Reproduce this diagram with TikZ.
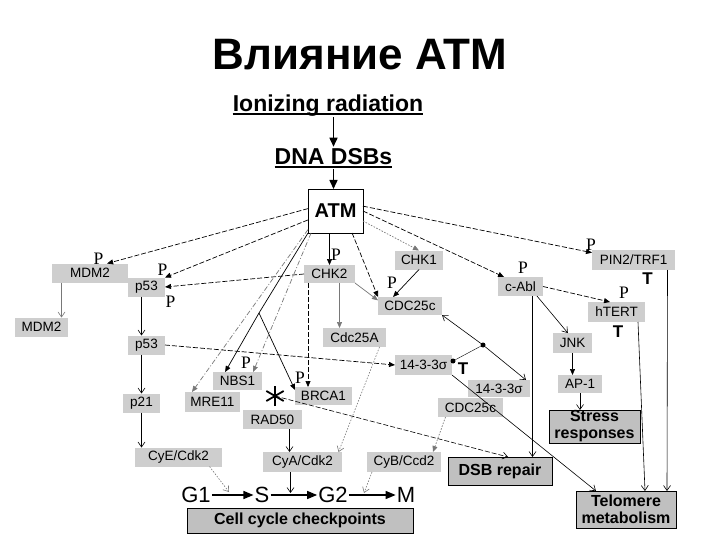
\documentclass[tikz,border=0pt]{standalone}
\usepackage{fontspec}
\setmainfont{Liberation Sans}
\newfontfamily\pfont{Liberation Serif}
\usetikzlibrary{arrows.meta, positioning, calc}
\definecolor{boxgray}{RGB}{206,206,206}
\definecolor{outgray}{RGB}{192,192,192}
\definecolor{lightline}{RGB}{120,120,120}

\begin{document}
\begin{tikzpicture}[x=1pt, y=-1pt,
  gbox/.style={fill=boxgray, font=\fontsize{13.5}{15}\selectfont, inner sep=0pt, outer sep=0pt, minimum height=19pt},
  outbox/.style={draw, line width=0.9pt, fill=outgray, font=\bfseries\fontsize{16}{17}\selectfont, align=center, inner sep=0pt, outer sep=0pt},
  plab/.style={font=\pfont\fontsize{17.5}{17}\selectfont, inner sep=0pt},
  tlab/.style={font=\bfseries\fontsize{17}{17}\selectfont, inner sep=0pt},
  phasetxt/.style={font=\fontsize{22}{22}\selectfont, inner sep=1pt},
  headtxt/.style={font=\bfseries\fontsize{23}{23}\selectfont, inner sep=0pt},
  dotnode/.style={circle, fill, inner sep=0pt, minimum size=5pt},
  arrow/.style={-{Triangle[length=6pt, width=5pt]}, line width=0.7pt},
  openarrow/.style={-{Straight Barb[length=5pt, width=7pt]}, line width=0.6pt},
  bigarrow/.style={-{Triangle[length=10pt, width=8pt]}, line width=1.4pt},
  dashln/.style={dash pattern=on 5pt off 2pt},
  lightln/.style={lightline, dash pattern=on 5pt off 2pt on 1pt off 2pt},
  dotln/.style={lightline, dash pattern=on 1.5pt off 1.5pt},
]
\fill[white] (0,0) rectangle (720,540);
\useasboundingbox (0,0) rectangle (720,540);

% Title and input
\node[font=\bfseries\fontsize{44}{48}\selectfont] (title) at (360,55) {Влияние ATM};
\node[headtxt, anchor=base] (ionz) at (328,112) {Ionizing radiation};
\node[headtxt, anchor=base] (dna) at (333.5,165) {DNA DSBs};
\draw[line width=1.5pt] ([yshift=-2pt]ionz.base west) -- ([yshift=-2pt]ionz.base east);
\draw[line width=1.5pt] ([yshift=-2pt]dna.base west) -- ([yshift=-2pt]dna.base east);
\node[draw, line width=0.9pt, fill=white, minimum width=55pt, minimum height=44pt, inner sep=0pt, outer sep=0pt, font=\bfseries\fontsize{20}{20}\selectfont] (atm) at (335.5,211) {ATM};
\draw[-{Triangle[length=9pt, width=8pt]}, line width=1.5pt] (ionz.south -| dna) -- ([yshift=2pt]dna.north);
\draw[-{Triangle[length=9pt, width=8pt]}, line width=1.5pt] ([yshift=-4pt]dna.south) -- (atm.north -| dna);

% Targets
\node[gbox, minimum width=76pt] (mdmA) at (90,273) {MDM2\hspace{20pt}};
\node[gbox, minimum width=53pt] (mdmB) at (41.5,327) {MDM2};
\node[gbox, minimum width=37pt] (p53a) at (146.5,287) {p53};
\node[gbox, minimum width=37pt] (p53b) at (146.5,345) {p53};
\node[gbox, minimum width=37pt] (p21) at (141.5,403) {p21};
\node[gbox, minimum width=87pt] (cye) at (178.5,457) {CyE/Cdk2\hspace{12pt}};
\node[gbox, minimum width=51pt, minimum height=18pt] (chk2) at (329.5,274) {CHK2};
\node[gbox, minimum width=48pt] (chk1) at (419,260) {CHK1};
\node[gbox, minimum width=64pt, minimum height=18pt] (cdcA) at (410,306) {CDC25c};
\node[gbox, minimum width=63pt] (cdc25a) at (354.5,337.5) {Cdc25A};
\node[gbox, minimum width=57pt, minimum height=20pt] (sigA) at (423.5,365) {14-3-3σ};
\node[gbox, minimum width=62pt, minimum height=17pt] (sigB) at (499,388.5) {14-3-3σ};
\node[gbox, minimum width=65pt] (cdcB) at (470.5,407.5) {CDC25c};
\node[gbox, minimum width=74pt, minimum height=20pt] (cyb) at (404,462) {CyB/Ccd2};
\node[gbox, minimum width=79pt, minimum height=20pt] (cya) at (302.5,462) {CyA/Cdk2};
\node[gbox, minimum width=59pt] (rad50) at (272.5,419.5) {RAD50};
\node[gbox, minimum width=57pt, minimum height=18pt] (brca1) at (323.5,396) {BRCA1};
\node[gbox, minimum width=49pt, minimum height=18pt] (nbs1) at (237.5,381) {NBS1};
\node[gbox, minimum width=55pt, minimum height=20pt] (mre11) at (212.5,402) {MRE11};
\node[gbox, minimum width=45pt] (cabl) at (520.5,286.5) {c-Abl};
\node[gbox, minimum width=83pt, minimum height=20pt] (pin2) at (633.5,260) {PIN2/TRF1};
\node[gbox, minimum width=57pt, minimum height=20pt] (htert) at (616.5,312) {hTERT};
\node[gbox, minimum width=39pt, minimum height=20pt] (jnk) at (572.5,343) {JNK};
\node[gbox, minimum width=44pt, minimum height=18pt] (ap1) at (580,384) {AP-1};

% Outcomes
\node[outbox, minimum width=91pt, minimum height=33pt] (stress) at (594.5,426.5) {Stress\\responses};
\node[outbox, minimum width=104pt, minimum height=28pt] (dsb) at (500,471) {DSB repair};
\node[outbox, minimum width=100pt, minimum height=37pt] (telo) at (626,509.5) {Telomere\\metabolism};
\node[outbox, minimum width=226pt, minimum height=25pt] (cellcyc) at (300,520.5) {Cell cycle checkpoints};

% Cell cycle phases
\node[phasetxt] (g1) at (196,495) {G1};
\node[phasetxt] (s) at (262,495) {S};
\node[phasetxt] (g2) at (333,495) {G2};
\node[phasetxt] (m) at (406,495) {M};
\draw[bigarrow] (g1) -- (s);
\draw[bigarrow] (s) -- (g2);
\draw[bigarrow] (g2) -- (m);
\coordinate (g1s) at (229,492);
\coordinate (sg2) at (290.5,493);
\coordinate (g2m) at (364,493);

% ATM to the left
\draw[arrow, dashln] (atm.175) -- (mdmA.29);
\draw[arrow, dashln] (atm.198) -- (p53a.north east);
\draw[arrow, dashln] (chk2.west) -- (p53a.east);
\draw[arrow] (atm.south -| chk2) -- (chk2.north);
\coordinate (brk) at (259,313);
\draw[arrow] (atm.south west) -- (brk) -- (nbs1.144);
\draw[arrow] (brk) -- (brca1.168);
\coordinate (c2b) at ([xshift=4pt]chk2.south west);
\draw[arrow, dashln] (c2b) -- (c2b |- brca1.north);
\draw[arrow, lightln] (atm.222) -- (nbs1.30);
\draw[arrow, lightln] (atm.214) -- (mre11.154);

% ATM to the right
\coordinate (c2a) at ([xshift=10pt]chk2.south);
\draw[arrow, lightline] (c2a) -- (c2a |- cdc25a.north);
\draw[arrow, lightline] (chk2.south east) -- (cdcA.170);
\draw[arrow, dashln] (atm.307) -- (cdcA.north west);
\draw[arrow] (chk1.south) -- (cdcA.152);
\draw[arrow, dotln] (atm.340) -- (chk1.north);
\draw[arrow, dashln] (atm.east) -- (cabl.150);
\draw[arrow, dashln] (atm.10) -- (pin2.170);
\draw[arrow, dashln] (cabl.east) -- (htert.123);
\draw[openarrow] (cabl.-30) -- (jnk.115);
\coordinate (cbd) at ([xshift=12pt]cabl.south);
\draw[openarrow] (cbd) -- (cbd |- dsb.north);
\draw[arrow] (jnk.south) -- (jnk.south |- ap1.north);
\draw[openarrow] (ap1.south) -- (ap1.south |- stress.north);
\draw[openarrow] ([xshift=-7pt]htert.south east) -- ([xshift=19pt]telo.north);
\draw[openarrow] ([xshift=34pt]pin2.south) -- ([xshift=41pt]telo.north);
\draw[openarrow] (sigA.south east) -- ([xshift=20pt]telo.north west);

% 14-3-3 sigma binding
\node[dotnode] (dotA) at (453,361) {};
\node[dotnode] (dotB) at (483,345) {};
\draw (dotA) -- (dotB);
\draw[openarrow] (dotB) -- (cdcA.south east);
\draw[openarrow] (dotB) -- ([xshift=-4pt]sigB.north east);

% p53 branch
\coordinate (mm) at ([xshift=20pt]mdmB.north);
\draw[openarrow, lightline] (mm |- mdmA.south) -- (mm);
\draw[openarrow] (p53a.south -| p21) -- (p53b.north -| p21);
\draw[openarrow] (p53b.south -| p21) -- (p21.north);
\draw[openarrow] (p21.south) -- (p21.south |- cye.north);
\draw[arrow, dashln] (p53b.east) -- (sigA.west);

% MRN complex and cyclins
\coordinate (ast) at (275,396);
\foreach \ang in {90,30,150}
  \draw[line width=1.8pt] ($(ast)+(\ang:10)$) -- ($(ast)+(\ang+180:10)$);
\draw[openarrow, dashln] (ast) -- ([xshift=8pt]dsb.north);
\coordinate (rc) at ([xshift=17pt]rad50.south);
\draw[openarrow] (rc) -- (rc |- cya.north);
\draw[openarrow] ([xshift=-12pt]cya.south) -- (sg2);
\draw[openarrow, dotln] ([xshift=-32pt]cyb.south) -- (g2m);
\draw[openarrow, dotln] ([xshift=31pt]cye.south) -- (g1s);
\draw[openarrow, dotln] ([xshift=25pt]cdc25a.south) -- ([xshift=36pt]cya.north);
\draw[arrow, dotln] ([xshift=-25pt]cdcB.south) -- ([xshift=29pt]cyb.north);

% P and T marks
\node[plab] (pa) at (98.5,258.5) {P};
\node[plab] (pb) at (162.5,269.5) {P};
\node[plab] (pc) at (170.5,301.5) {P};
\node[plab] (pd) at (336,254.5) {P};
\node[plab] (pe) at (392,282.5) {P};
\node[plab] (pf) at (523,268) {P};
\node[plab] (pg) at (591,245) {P};
\node[plab] (ph) at (624,292.5) {P};
\node[plab] (pi) at (246,362.5) {P};
\node[plab] (pj) at (300,377.5) {P};
\node[tlab] (ta) at (463,369) {T};
\node[tlab] (tb) at (647.5,278.5) {T};
\node[tlab] (tc) at (618,332) {T};
\end{tikzpicture}
\end{document}
